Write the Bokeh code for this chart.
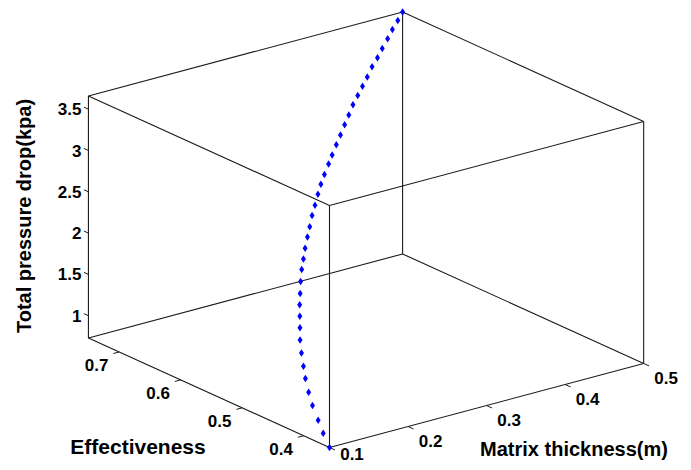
import math
from bokeh.plotting import figure
from bokeh.models import Range1d, ColumnDataSource
from bokeh.embed import file_html
from bokeh.resources import INLINE
from bokeh.core.properties import value

# ---------------- data ----------------
thickness = [0.10, 0.11, 0.12, 0.13, 0.14, 0.15, 0.16, 0.17, 0.18, 0.19,
             0.20, 0.21, 0.22, 0.23, 0.24, 0.25, 0.26, 0.27, 0.28, 0.29,
             0.30, 0.31, 0.32, 0.33, 0.34, 0.35, 0.36, 0.37, 0.38, 0.39,
             0.40, 0.41, 0.42, 0.43, 0.44, 0.45, 0.46, 0.47, 0.48, 0.49, 0.50]
effectiveness = [0.358, 0.381, 0.402, 0.424, 0.443, 0.461, 0.477, 0.493, 0.508, 0.521,
                 0.534, 0.547, 0.559, 0.571, 0.582, 0.592, 0.602, 0.611, 0.620, 0.629,
                 0.637, 0.645, 0.653, 0.660, 0.666, 0.673, 0.679, 0.685, 0.691, 0.697,
                 0.703, 0.708, 0.713, 0.718, 0.723, 0.727, 0.732, 0.736, 0.741, 0.745, 0.750]
pressure_drop = [0.73, 0.80, 0.86, 0.94, 1.01, 1.09, 1.16, 1.24, 1.32, 1.40,
                 1.47, 1.54, 1.61, 1.69, 1.77, 1.84, 1.91, 1.99, 2.06, 2.14,
                 2.21, 2.29, 2.36, 2.43, 2.51, 2.57, 2.65, 2.72, 2.80, 2.87,
                 2.95, 3.02, 3.09, 3.16, 3.24, 3.31, 3.38, 3.46, 3.53, 3.60, 3.66]

thickness_ticks = [0.1, 0.2, 0.3, 0.4, 0.5]
effectiveness_ticks = [0.4, 0.5, 0.6, 0.7]
pressure_ticks = [1.0, 1.5, 2.0, 2.5, 3.0, 3.5]

x_title = "Matrix thickness(m)"
y_title = "Effectiveness"
z_title = "Total pressure drop(kpa)"

# ---------------- 3D view (orthographic projection) ----------------
AZ = math.radians(37.5)
EL = math.radians(20.4)
SCALE = 396.0
ASPECT_Z = 0.652
ORIGIN = (329.0, 23.0)       # screen position of front-bottom corner

X0, X1 = min(thickness), max(thickness)
E0, E1 = min(effectiveness), max(effectiveness)
Z0, Z1 = min(pressure_drop), max(pressure_drop)

UX = (SCALE * math.cos(AZ), SCALE * math.sin(AZ) * math.sin(EL))
UV = (-SCALE * math.sin(AZ), SCALE * math.cos(AZ) * math.sin(EL))
UW = (0.0, SCALE * ASPECT_Z * math.cos(EL))


def proj(x, e, z):
    u = (x - X0) / (X1 - X0)
    v = (e - E0) / (E1 - E0)
    w = (z - Z0) / (Z1 - Z0)
    return (ORIGIN[0] + u * UX[0] + v * UV[0] + w * UW[0],
            ORIGIN[1] + u * UX[1] + v * UV[1] + w * UW[1])


def unit(vec, sign=1.0):
    n = math.hypot(vec[0], vec[1])
    return (sign * vec[0] / n, sign * vec[1] / n)


W, H = 691, 470
p = figure(width=W, height=H, output_backend="svg", toolbar_location=None,
           x_range=Range1d(0, W), y_range=Range1d(0, H),
           min_border=0, outline_line_color=None)
p.axis.visible = False
p.grid.visible = False
p.background_fill_color = "white"
p.border_fill_color = "white"

# ---------------- box edges ----------------
xs, ys = [], []
lims = {"x": (X0, X1), "e": (E0, E1), "z": (Z0, Z1)}
corners = [(a, b, c) for a in (0, 1) for b in (0, 1) for c in (0, 1)]
for c1 in corners:
    for c2 in corners:
        if c1 < c2 and sum(abs(i - j) for i, j in zip(c1, c2)) == 1:
            pa = proj(lims["x"][c1[0]], lims["e"][c1[1]], lims["z"][c1[2]])
            pb = proj(lims["x"][c2[0]], lims["e"][c2[1]], lims["z"][c2[2]])
            xs.append([pa[0], pb[0]])
            ys.append([pa[1], pb[1]])
p.multi_line(xs, ys, line_color="#1a1a1a", line_width=1.1)

FONT = value("Liberation Sans")

# ---------------- ticks ----------------
tx, ty = [], []
dz = unit(UV, 1.0)
zl_x, zl_y, zl_t = [], [], []
for t in pressure_ticks:
    a = proj(X0, E1, t)
    tx.append([a[0], a[0] + 5 * dz[0]])
    ty.append([a[1], a[1] + 5 * dz[1]])
    zl_x.append(a[0] - 7)
    zl_y.append(a[1])
    zl_t.append(f"{t:g}")
de = unit(UX, -1.0)
el_x, el_y, el_t = [], [], []
for t in effectiveness_ticks:
    a = proj(X0, t, Z0)
    tx.append([a[0], a[0] + 6 * de[0]])
    ty.append([a[1], a[1] + 6 * de[1]])
    el_x.append(a[0] - 22.5)
    el_y.append(a[1] - 13)
    el_t.append(f"{t:g}")
dx = unit(UV, -1.0)
xl_x, xl_y, xl_t = [], [], []
for t in thickness_ticks:
    a = proj(t, E0, Z0)
    tx.append([a[0], a[0] + 6 * dx[0]])
    ty.append([a[1], a[1] + 6 * dx[1]])
    xl_x.append(a[0] + 22.5)
    xl_y.append(max(a[1] - 15, 16.5))
    xl_t.append(f"{t:g}")
p.multi_line(tx, ty, line_color="#1a1a1a", line_width=1)

TICK_FS = "17px"
p.text(x=zl_x, y=zl_y, text=zl_t, text_font=FONT, text_font_style="bold",
       text_font_size=TICK_FS, text_align="right", text_baseline="middle",
       text_color="black")
p.text(x=el_x, y=el_y, text=el_t, text_font=FONT, text_font_style="bold",
       text_font_size=TICK_FS, text_align="center", text_baseline="middle",
       text_color="black")
p.text(x=xl_x, y=xl_y, text=xl_t, text_font=FONT, text_font_style="bold",
       text_font_size=TICK_FS, text_align="center", text_baseline="middle",
       text_color="black")

# ---------------- axis titles ----------------
p.text(x=[23], y=[470 - 215.5], text=[z_title], angle=math.pi / 2,
       text_font=FONT, text_font_style="bold", text_font_size="20px",
       text_align="center", text_baseline="middle", text_color="black")
p.text(x=[137.5], y=[470 - 446], text=[y_title],
       text_font=FONT, text_font_style="bold", text_font_size="21px",
       text_align="center", text_baseline="middle", text_color="black")
p.text(x=[573.5], y=[470 - 448], text=[x_title],
       text_font=FONT, text_font_style="bold", text_font_size="20px",
       text_align="center", text_baseline="middle", text_color="black")

# ---------------- data curve ----------------
pts = [proj(a, b, c) for a, b, c in zip(thickness, effectiveness, pressure_drop)]
src = ColumnDataSource(dict(px=[q[0] for q in pts], py=[q[1] for q in pts]))
p.scatter("px", "py", source=src, marker="diamond", size=7.5,
          fill_color="#0000ff", line_color=None)

open("out.html", "w").write(file_html(p, INLINE))
